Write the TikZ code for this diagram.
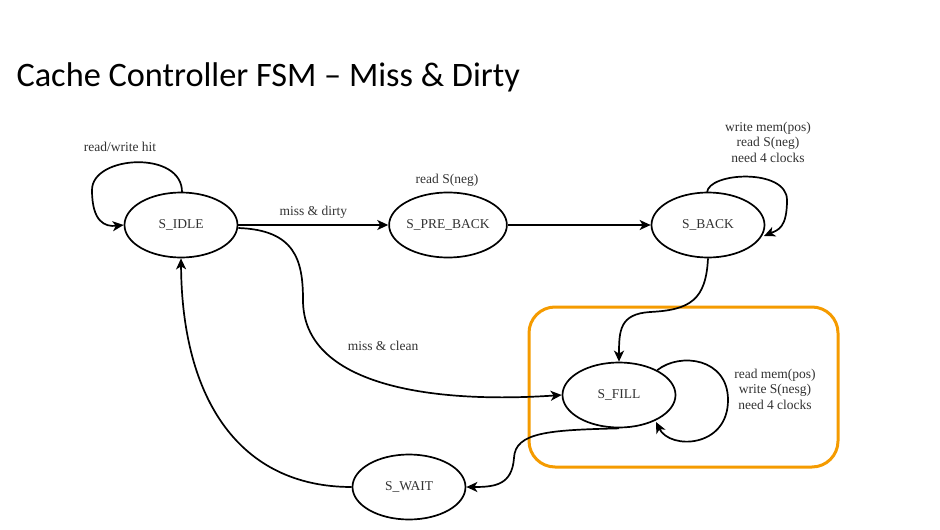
\documentclass[tikz,border=0pt]{standalone}
\usepackage{fontspec}
\setmainfont{Liberation Serif}
\newfontfamily\titlefont{Carlito}
\usetikzlibrary{arrows.meta,shapes.geometric}
\tikzset{>=stealth}
\definecolor{hiorange}{RGB}{245,155,0}
\definecolor{txtgrey}{RGB}{50,50,50}
\tikzset{
  state/.style={draw,ellipse,line width=1.7pt,minimum width=113pt,minimum height=65pt,inner sep=0pt,text=txtgrey,font=\fontsize{13.5}{15.5}\selectfont},
  trans/.style={line width=1.7pt,-{Stealth[length=11pt,width=10pt,inset=3pt]}},
  lbl/.style={text=txtgrey,font=\fontsize{13.5}{15.5}\selectfont,align=center}
}
\begin{document}
\begin{tikzpicture}[x=1pt,y=-1pt]
\useasboundingbox (0,0) rectangle (940,530);

\node[anchor=base west,font=\titlefont\fontsize{34.3}{40}\selectfont] (title) at (13,86) {Cache Controller FSM – Miss \& Dirty};

% highlight round the fill state
\draw[hiorange,line width=3pt,rounded corners=26pt] (529,307) rectangle (838,467);

\node[state] (idle) at (181,225) {S\_IDLE};
\node[state] (preback) at (448,225) {S\_PRE\_BACK};
\node[state] (back) at (708,225) {S\_BACK};
\node[state] (fill) at (619,395) {S\_FILL};
\node[state] (wait) at (409,487) {S\_WAIT};

% read/write hit loop
\draw[trans] (idle.north) ++(1,1) .. controls (183,150) and (92,155) .. (92,190) .. controls (92,222) and (105,227) .. (idle.west);
\node[lbl] (hitlbl) at (120,147) {read/write hit};

\draw[trans] (idle.east) -- node[lbl,above=2pt] (dirtylbl) {miss \& dirty} (preback.west);
\node[lbl] (neglbl) at (447,180) {read S(neg)};
\draw[trans] (preback.east) -- (back.west);

% write back loop
\draw[trans] (back.north) ++(-1,1) .. controls (708,172) and (787,168) .. (787,200) .. controls (787,228) and (778,230) .. (764,236);
\node[lbl] (backlbl) at (768,142) {write mem(pos)\\read S(neg)\\need 4 clocks};

\draw[trans] (back.south) .. controls (706,300) and (690,310) .. (650,312) .. controls (620,314) and (619,330) .. (fill.north);

% miss and clean
\draw[trans] (idle.east) ++(0,3) .. controls (295,230) and (303,260) .. (303,300) .. controls (303,385) and (430,404) .. (fill.west);
\node[lbl] (cleanlbl) at (383,346) {miss \& clean};

% fill loop
\draw[trans] (fill.33) .. controls (680,352) and (728,358) .. (728,400) .. controls (728,448) and (670,450) .. (656,422);
\node[lbl] (filllbl) at (775,389) {read mem(pos)\\write S(nesg)\\need 4 clocks};

\draw[trans] (fill.south) .. controls (550,430) and (515,432) .. (514,458) .. controls (512,485) and (495,487) .. (wait.east);
\draw[trans] (wait.west) .. controls (240,487) and (182,400) .. (idle.south);
\end{tikzpicture}
\end{document}
